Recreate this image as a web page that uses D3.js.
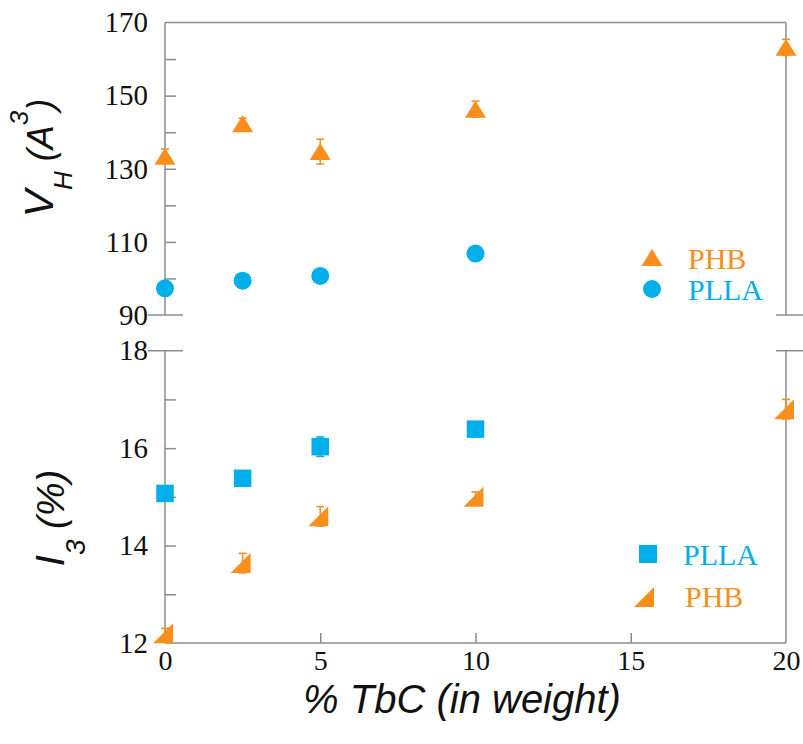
<!DOCTYPE html>
<html><head><meta charset="utf-8">
<script src="https://cdn.jsdelivr.net/npm/d3@7"></script>
<style>
html,body{margin:0;padding:0;background:#fff;}
svg{display:block;}
</style></head>
<body>
<svg id="chart" width="803" height="744"></svg>
<script>
// ---- data ----
const tbc = [0, 2.5, 5, 10, 20];
const tbcPLLA = [0, 2.5, 5, 10];
const vhPHB = [133.4, 142.3, 134.7, 146.3, 163.2];
const vhPHBErr = [2, 1.5, 3.4, 2.2, 2.2];
const vhPLLA = [97.3, 99.4, 100.7, 106.8];
const i3PLLA = [15.07, 15.38, 16.03, 16.39];
const i3PLLAErr = [0, 0, 0.2, 0];
const i3PHB = [12.2, 13.64, 14.6, 15.0, 16.8];
const i3PHBErr = [0.1, 0.2, 0.2, 0.1, 0.2];
const xTicks = [0, 5, 10, 15, 20];
const vhTicks = [90, 100, 110, 120, 130, 140, 150, 160, 170];
const vhLabels = [90, 110, 130, 150, 170];
const i3Ticks = [12, 13, 14, 15, 16, 17, 18];
const i3Labels = [12, 14, 16, 18];

const ORANGE = "#F98E1D", BLUE = "#00AEEA", AXIS = "#8c8c8c";
const SERIF = "'Liberation Serif', 'Times New Roman', serif";
const SANS = "'Liberation Sans', Arial, sans-serif";
const svg = d3.select("#chart");

const x = d3.scaleLinear([0, 20], [165, 786]);
const yTop = d3.scaleLinear([90, 170], [315, 22.5]);
const yBot = d3.scaleLinear([12, 18], [643, 350.7]);

// ---- axes ----
function yAxis(scale, ticks, labels) {
  const g = svg.append("g").attr("transform", `translate(${x(0)},0)`)
    .call(d3.axisLeft(scale).tickValues(ticks).tickSize(-11).tickPadding(17)
      .tickFormat(d => labels.includes(d) ? d : ""));
  g.select(".domain").remove();
  g.selectAll(".tick line").attr("stroke", AXIS).attr("stroke-width", 1.5)
    .attr("opacity", d => (d === scale.domain()[0] || d === scale.domain()[1]) ? 0 : 1);
  g.selectAll(".tick text").style("font-family", SERIF).style("font-size", "29px").attr("fill", "#111");
}
yAxis(yTop, vhTicks, vhLabels);
yAxis(yBot, i3Ticks, i3Labels);

const xg = svg.append("g").attr("transform", `translate(0,${yBot(12)})`)
  .call(d3.axisBottom(x).tickValues(xTicks).tickSize(-10).tickPadding(7));
xg.select(".domain").remove();
xg.selectAll(".tick line").attr("stroke", AXIS).attr("stroke-width", 1.5)
  .attr("opacity", d => (d === 0 || d === 20) ? 0 : 1);
xg.selectAll(".tick text").style("font-family", SERIF).style("font-size", "28px").attr("fill", "#111");

// frames
const frame = svg.append("g").attr("stroke", AXIS).attr("stroke-width", 1.5).attr("fill", "none");
const L = x(0), R = x(20);
const lines = [
  [L, yTop(170), R, yTop(170)],
  [L, yTop(170), L, yTop(90)],
  [R, yTop(170), R, yTop(90)],
  [L - 17, yTop(90), L + 18, yTop(90)],
  [R - 10, yTop(90), 803, yTop(90)],
  [L, yBot(18), L, yBot(12)],
  [R, yBot(18), R, yBot(12)],
  [L - 17, yBot(18), L + 18, yBot(18)],
  [R - 10, yBot(18), 803, yBot(18)],
  [L, yBot(12), R, yBot(12)]
];
lines.forEach(l => frame.append("line").attr("x1", l[0]).attr("y1", l[1]).attr("x2", l[2]).attr("y2", l[3]));

// ---- marker shapes ----
const tri = (cx, cy) => `M${cx - 10.5},${cy + 8.5}L${cx + 10.5},${cy + 8.5}L${cx},${cy - 8.5}Z`;
const half = (cx, cy) => `M${cx - 12},${cy + 10}L${cx + 8},${cy + 10}L${cx + 8},${cy - 10}Z`;

function errBars(xs, ys, es, scale, color) {
  const g = svg.append("g").attr("stroke", color).attr("stroke-width", 1.6);
  xs.forEach((xv, i) => {
    if (!es[i]) return;
    const cx = x(xv), y1 = scale(ys[i] + es[i]), y2 = scale(ys[i] - es[i]);
    g.append("line").attr("x1", cx).attr("x2", cx).attr("y1", y1).attr("y2", y2);
    g.append("line").attr("x1", cx - 4).attr("x2", cx + 4).attr("y1", y1).attr("y2", y1);
    g.append("line").attr("x1", cx - 4).attr("x2", cx + 4).attr("y1", y2).attr("y2", y2);
  });
}

// top panel
errBars(tbc, vhPHB, vhPHBErr, yTop, ORANGE);
svg.append("g").selectAll("path").data(tbc).join("path")
  .attr("d", (d, i) => tri(x(d), yTop(vhPHB[i]))).attr("fill", ORANGE);
svg.append("g").selectAll("circle").data(tbcPLLA).join("circle")
  .attr("cx", d => x(d)).attr("cy", (d, i) => yTop(vhPLLA[i])).attr("r", 9).attr("fill", BLUE);

// bottom panel
errBars(tbcPLLA, i3PLLA, i3PLLAErr, yBot, BLUE);
svg.append("g").selectAll("rect").data(tbcPLLA).join("rect")
  .attr("x", d => x(d) - 8.75).attr("y", (d, i) => yBot(i3PLLA[i]) - 8.75)
  .attr("width", 17.5).attr("height", 17.5).attr("fill", BLUE);
errBars(tbc, i3PHB, i3PHBErr, yBot, ORANGE);
svg.append("g").selectAll("path").data(tbc).join("path")
  .attr("d", (d, i) => half(x(d), yBot(i3PHB[i]))).attr("fill", ORANGE);

// ---- legends ----
const lg = svg.append("g").style("font-family", SERIF).style("font-size", "30px");
lg.append("path").attr("d", tri(652, 257.5)).attr("fill", ORANGE);
lg.append("text").attr("x", 688).attr("y", 269).attr("fill", ORANGE).text("PHB");
lg.append("circle").attr("cx", 652).attr("cy", 289).attr("r", 9).attr("fill", BLUE);
lg.append("text").attr("x", 688).attr("y", 300).attr("fill", BLUE).text("PLLA");
lg.append("rect").attr("x", 639).attr("y", 545).attr("width", 18).attr("height", 18).attr("fill", BLUE);
lg.append("text").attr("x", 683).attr("y", 565).attr("fill", BLUE).text("PLLA");
lg.append("path").attr("d", half(646, 597)).attr("fill", ORANGE);
lg.append("text").attr("x", 685).attr("y", 607).attr("fill", ORANGE).text("PHB");

// ---- axis titles ----
const t1 = svg.append("text").attr("transform", "translate(53,158) rotate(-90)")
  .attr("text-anchor", "middle").style("font-family", SANS).style("font-style", "italic")
  .attr("fill", "#111");
t1.append("tspan").style("font-size", "41px").text("V");
t1.append("tspan").style("font-size", "26px").attr("dy", 19).text("H");
t1.append("tspan").style("font-size", "36px").attr("dy", -19).text(" (A");
t1.append("tspan").style("font-size", "26px").attr("dy", -25).text("3");
t1.append("tspan").style("font-size", "36px").attr("dy", 25).text(")");

const t2 = svg.append("text").attr("transform", "translate(64,518) rotate(-90)")
  .attr("text-anchor", "middle").style("font-family", SANS).style("font-style", "italic")
  .attr("fill", "#111");
t2.append("tspan").style("font-size", "40px").text("I");
t2.append("tspan").style("font-size", "28px").attr("dy", 21).text("3");
t2.append("tspan").style("font-size", "38px").attr("dy", -21).text(" (%)");

svg.append("text").attr("x", 462).attr("y", 713).attr("text-anchor", "middle")
  .style("font-family", SANS).style("font-style", "italic").style("font-size", "40px")
  .attr("fill", "#111").text("% TbC (in weight)");
</script>
</body></html>
